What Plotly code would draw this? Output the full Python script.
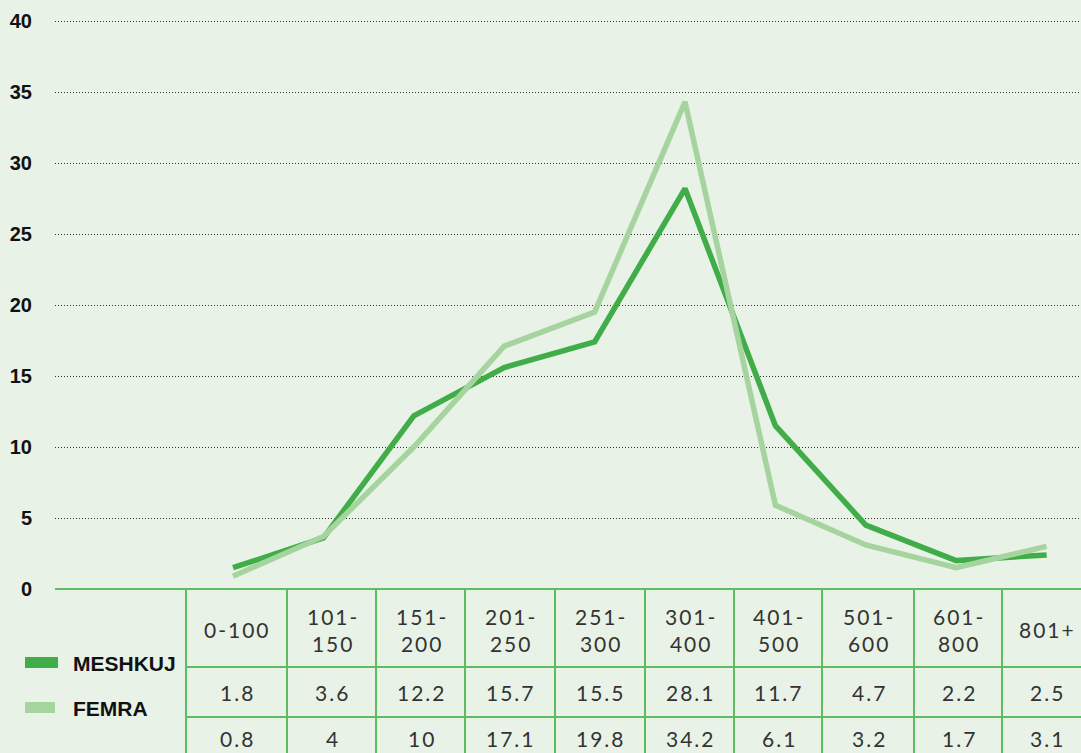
import plotly.graph_objects as go

# ---------------- data ----------------
categories = ["0-100", "101-<br>150", "151-<br>200", "201-<br>250", "251-<br>300",
              "301-<br>400", "401-<br>500", "501-<br>600", "601-<br>800", "801+"]
# values as drawn by the lines
meshkuj_line = [1.5, 3.6, 12.2, 15.6, 17.4, 28.2, 11.5, 4.5, 2.0, 2.4]
femra_line = [0.9, 3.7, 10.0, 17.1, 19.5, 34.3, 5.9, 3.1, 1.5, 3.0]
# values printed in the table
meshkuj_table = ["1.8", "3.6", "12.2", "15.7", "15.5", "28.1", "11.7", "4.7", "2.2", "2.5"]
femra_table = ["0.8", "4", "10", "17.1", "19.8", "34.2", "6.1", "3.2", "1.7", "3.1"]
series_names = ["MESHKUJ", "FEMRA"]
y_ticks = [0, 5, 10, 15, 20, 25, 30, 35, 40]

# ---------------- style ----------------
BG = "#e8f2e7"
C_M = "#41ad49"
C_F = "#a5d49e"
C_TAB = "#5cbd60"
GRID = "#333333"
W, H = 1081, 753
L, T, B = 55, 14, 164
PW, PH = W - L, H - T - B


def px(xp):
    return (xp - L) / PW


def py(yp):
    return (H - B - yp) / PH


xs = list(range(len(categories)))
fig = go.Figure()
fig.add_trace(go.Scatter(x=xs, y=meshkuj_line, mode="lines", name=series_names[0],
                         line=dict(color=C_M, width=5.5), hoverinfo="skip"))
fig.add_trace(go.Scatter(x=xs, y=femra_line, mode="lines", name=series_names[1],
                         line=dict(color=C_F, width=5.5), hoverinfo="skip"))

shapes = []
# axis line / table top line
shapes.append(dict(type="line", xref="paper", yref="paper", x0=0, x1=1, y0=py(589), y1=py(589),
                   line=dict(color=C_TAB, width=2)))
# row lines
for yy in (667, 717):
    shapes.append(dict(type="line", xref="paper", yref="paper", x0=px(186), x1=1, y0=py(yy), y1=py(yy),
                       line=dict(color=C_TAB, width=2)))
col_edges = [186, 287, 376, 465, 555, 645, 734, 822, 914, 1002, 1090]
for xx in col_edges[:-1]:
    shapes.append(dict(type="line", xref="paper", yref="paper", x0=px(xx), x1=px(xx), y0=py(589), y1=py(H),
                       line=dict(color=C_TAB, width=2)))
# legend swatches
shapes.append(dict(type="rect", xref="paper", yref="paper", x0=px(25), x1=px(58), y0=py(668), y1=py(657),
                   fillcolor=C_M, line=dict(width=0)))
shapes.append(dict(type="rect", xref="paper", yref="paper", x0=px(25), x1=px(55), y0=py(713), y1=py(702),
                   fillcolor=C_F, line=dict(width=0)))

ann = []
tfont = dict(family="Lato, 'Open Sans', 'Liberation Sans', sans-serif", size=21, color="#333333", weight=400)


def sp(t):
    return '<span style="letter-spacing:2px">' + t + '</span>'


for i, cat in enumerate(categories):
    cx = (col_edges[i] + col_edges[i + 1]) / 2 + 1
    ann.append(dict(xref="paper", yref="paper", x=px(cx), y=py(630), text=sp(cat), showarrow=False,
                    xanchor="center", yanchor="middle", font=tfont, align="center"))
    ann.append(dict(xref="paper", yref="paper", x=px(cx), y=py(692), text=sp(meshkuj_table[i]), showarrow=False,
                    xanchor="center", yanchor="middle", font=tfont))
    ann.append(dict(xref="paper", yref="paper", x=px(cx), y=py(738), text=sp(femra_table[i]), showarrow=False,
                    xanchor="center", yanchor="middle", font=tfont))

lfont = dict(family="'Liberation Sans', Arial, sans-serif", size=21, color="#111111", weight="bold")
ann.append(dict(xref="paper", yref="paper", x=px(71), y=py(663), text=series_names[0], showarrow=False,
                xanchor="left", yanchor="middle", font=lfont))
ann.append(dict(xref="paper", yref="paper", x=px(71), y=py(708), text=series_names[1], showarrow=False,
                xanchor="left", yanchor="middle", font=lfont))

step = 90.4
y_top = 40 * PH / (589 - 21)
fig.update_layout(
    width=W, height=H,
    margin=dict(l=L, r=0, t=T, b=B, pad=0),
    paper_bgcolor=BG, plot_bgcolor=BG,
    showlegend=False,
    shapes=shapes, annotations=ann,
    xaxis=dict(range=[-(233 - L) / step, (W - 233) / step], visible=False, fixedrange=True),
    yaxis=dict(range=[0, y_top], tickvals=y_ticks, showgrid=True, gridcolor=GRID, gridwidth=1,
               griddash="1px,2px", zeroline=False, showline=False, ticks="",
               ticklabelstandoff=22,
               tickfont=dict(family="'Liberation Sans', Arial, sans-serif", size=20, color="#111111",
                             weight="bold")),
)

fig.write_html("out.html", config={"displayModeBar": False},
               post_script="document.body.style.margin='0';document.body.style.padding='0';")
